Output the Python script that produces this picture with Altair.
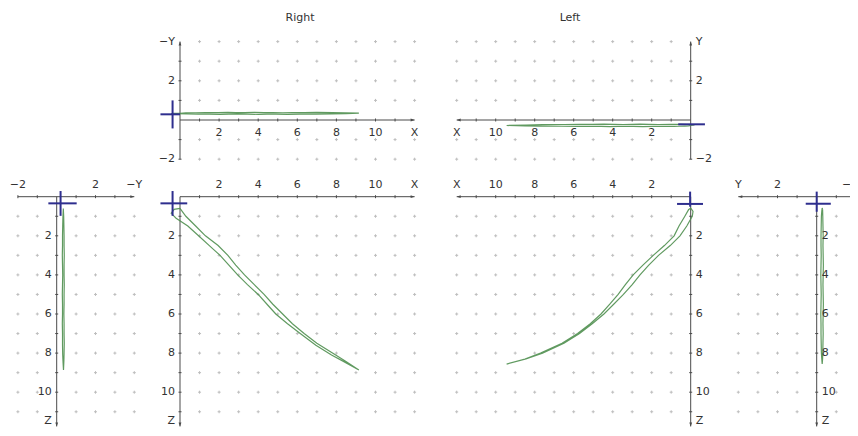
import altair as alt
import pandas as pd

# ---------------- data ----------------
# Right side trajectory: outward path then return path
right_x = [0.0, 0.3, 0.8, 1.3, 1.95, 2.45, 2.85, 3.3, 3.8, 4.3, 4.75, 5.25, 5.75, 6.35, 7.0, 7.8, 8.45, 9.15,
           8.5, 7.75, 6.95, 6.15, 5.5, 4.9, 4.45, 4.0, 3.45, 2.95, 2.5, 2.05, 1.5, 0.95, 0.4, -0.2, -0.45, -0.3, 0.0]
right_z = [0.6, 1.0, 1.5, 2.0, 2.5, 3.0, 3.5, 4.0, 4.5, 5.0, 5.5, 6.0, 6.5, 7.0, 7.5, 8.0, 8.4, 8.86,
           8.5, 8.1, 7.6, 7.0, 6.5, 6.0, 5.5, 5.0, 4.5, 4.0, 3.5, 3.0, 2.5, 2.0, 1.5, 1.1, 0.85, 0.65, 0.6]
right_negy = [0.34, 0.36, 0.37, 0.38, 0.38, 0.39, 0.38, 0.38, 0.39, 0.38, 0.38, 0.37, 0.38, 0.38, 0.39, 0.38, 0.37, 0.35,
              0.33, 0.31, 0.30, 0.30, 0.29, 0.30, 0.30, 0.29, 0.30, 0.31, 0.30, 0.29, 0.30, 0.30, 0.31, 0.32, 0.33, 0.34, 0.34]

# Left side trajectory: outward path then return path
left_x = [0.1, 0.3, 0.6, 0.85, 1.35, 1.92, 2.45, 2.95, 3.35, 3.72, 4.15, 4.6, 5.15, 5.8, 6.6, 7.7, 8.5, 9.44,
          8.45, 7.6, 6.5, 5.7, 5.05, 4.45, 3.95, 3.45, 3.0, 2.6, 2.15, 1.65, 1.05, 0.55, 0.2, -0.08, -0.12, 0.0, 0.1]
left_z = [0.65, 1.0, 1.5, 2.0, 2.5, 3.0, 3.5, 4.0, 4.5, 5.0, 5.5, 6.0, 6.5, 7.0, 7.5, 8.0, 8.3, 8.56,
          8.3, 8.0, 7.5, 7.0, 6.5, 6.0, 5.5, 5.0, 4.5, 4.0, 3.5, 3.0, 2.5, 2.0, 1.5, 1.0, 0.75, 0.58, 0.65]
left_y = [-0.30, -0.31, -0.32, -0.33, -0.32, -0.33, -0.34, -0.33, -0.32, -0.33, -0.34, -0.33, -0.32, -0.33, -0.32, -0.31, -0.30, -0.28,
          -0.26, -0.24, -0.23, -0.22, -0.22, -0.21, -0.22, -0.23, -0.22, -0.21, -0.22, -0.23, -0.22, -0.22, -0.23, -0.24, -0.26, -0.28, -0.30]

# blue marker cross arms per view: (u0, v0, u1, v1)
cross_A = [(-0.38, -0.43, -0.38, 1.0), (-1.0, 0.29, 0.0, 0.29)]
cross_B = [(0.64, -0.22, -0.73, -0.22)]
cross_C = [(0.2, -0.29, 0.2, 0.98), (-0.43, 0.34, 1.03, 0.34)]
cross_D = [(-0.38, -0.29, -0.38, 0.98), (-1.0, 0.34, 0.37, 0.34)]
cross_E = [(0.70, 0.37, -0.63, 0.37), (0.03, -0.26, 0.03, 0.51)]
cross_F = [(0.56, 0.36, -0.72, 0.36), (0.0, -0.26, 0.0, 0.77)]

# tick label lists
long_x_vals = [2, 4, 6, 8, 10, 12]
long_x_texts = ["2", "4", "6", "8", "10", "X"]
long_z_vals = [2, 4, 6, 8, 10, 11.45]
long_z_texts = ["2", "4", "6", "8", "10", "Z"]
short_vals = [2, -2, 4]
short_texts_negy = ["2", "\u22122", "\u2212Y"]
short_texts_y = ["2", "\u22122", "Y"]

# ---------------- styling ----------------
FONT = "DejaVu Sans"
AXC = "#4a4a4a"
TXT = "#333333"
GRID = "#bdbdbd"
GREEN = "#4f8f4f"
BLUE = "#2e2e8e"

DOT = "M-1,0L1,0M0,-1L0,1"
VT = "M0,-1L0,1"
HT = "M-1,0L1,0"
ARROW = {
    "right": "M0,0L-2,-0.7L-2,0.7Z",
    "left": "M0,0L2,-0.7L2,0.7Z",
    "up": "M0,0L-0.7,2L0.7,2Z",
    "down": "M0,0L-0.7,-2L0.7,-2Z",
}

# pixel ranges (chart coordinates)
RX = [172, 406.6]       # Right X 0..12
LX = [682.7, 448.7]     # Left X 0..12 (reversed)
TOPY = [151.2, 33.6]    # Y -2..4
BOTZ = [188.7, 423.3]   # Z 0..12 (downwards)
CX = [9.9, 126.3]       # -Y -2..4
FX = [847.9, 730.3]     # Y -2..4 (reversed)
ZEND = 11.75            # vertical axes end (arrow) inside the canvas


def make_panel(xd, xr, yd, yr, cu, cv, h_axis, v_axis, h_ticks, v_ticks,
               grid_u, grid_v, arrows, hl_vals, hl_texts, hl_dy,
               vl_vals, vl_texts, vl_side, cross):
    sx = alt.Scale(domain=xd, range=xr, zero=False, nice=False)
    sy = alt.Scale(domain=yd, range=yr, zero=False, nice=False)

    def enc(u="u", v="v"):
        return dict(x=alt.X(f"{u}:Q", scale=sx, axis=None),
                    y=alt.Y(f"{v}:Q", scale=sy, axis=None))

    layers = []
    grid = pd.DataFrame([(u, v) for u in grid_u for v in grid_v], columns=["u", "v"])
    layers.append(alt.Chart(grid).mark_point(shape=DOT, size=9, color=GRID, filled=False,
                                             strokeWidth=1, opacity=1).encode(**enc()))

    rules = pd.DataFrame([h_axis, v_axis], columns=["u", "v", "u2", "v2"])
    layers.append(alt.Chart(rules).mark_rule(color=AXC, strokeWidth=1).encode(
        **enc(), x2="u2:Q", y2="v2:Q"))

    ticks = pd.DataFrame([(t, 0, VT) for t in h_ticks] + [(0, t, HT) for t in v_ticks],
                         columns=["u", "v", "s"])
    layers.append(alt.Chart(ticks).mark_point(size=9, color=AXC, filled=False, strokeWidth=1,
                                              opacity=1).encode(
        **enc(), shape=alt.Shape("s:N", scale=None)))

    arr = pd.DataFrame([(a[0], a[1], ARROW[a[2]]) for a in arrows], columns=["u", "v", "s"])
    layers.append(alt.Chart(arr).mark_point(size=16, color=AXC, filled=True, opacity=1).encode(
        **enc(), shape=alt.Shape("s:N", scale=None)))

    curve = pd.DataFrame({"u": cu, "v": cv, "i": list(range(len(cu)))})
    layers.append(alt.Chart(curve).mark_line(color=GREEN, strokeWidth=1.2, opacity=0.9).encode(
        **enc(), order="i:Q"))

    cr = pd.DataFrame(cross, columns=["u", "v", "u2", "v2"])
    layers.append(alt.Chart(cr).mark_rule(color=BLUE, strokeWidth=2).encode(
        **enc(), x2="u2:Q", y2="v2:Q"))

    hl = pd.DataFrame({"u": hl_vals, "v": [0] * len(hl_vals), "t": hl_texts})
    layers.append(alt.Chart(hl).mark_text(font=FONT, fontSize=11, color=TXT, align="center",
                                          baseline="middle", dy=hl_dy).encode(**enc(), text="t:N"))

    vl = pd.DataFrame({"u": [0] * len(vl_vals), "v": vl_vals, "t": vl_texts})
    if vl_side == "left":
        tm = alt.Chart(vl).mark_text(font=FONT, fontSize=11, color=TXT, align="right",
                                     baseline="middle", dx=-5)
    else:
        tm = alt.Chart(vl).mark_text(font=FONT, fontSize=11, color=TXT, align="left",
                                     baseline="middle", dx=5)
    layers.append(tm.encode(**enc(), text="t:N"))
    return alt.layer(*layers)


xs12 = list(range(1, 13))
ticks11 = list(range(1, 12))
short_ticks = [-2, -1, 1, 2, 3]
short_grid = [-2, -1, 1, 2, 3, 4]

# A: Right, X vs -Y (top)
pA = make_panel([0, 12], RX, [-2, 4], TOPY, right_x, right_negy,
                (0, 0, 12, 0), (0, -2, 0, 4), ticks11, short_ticks, xs12, short_grid,
                [(12, 0, "right"), (0, 4, "up")], long_x_vals, long_x_texts, 13,
                short_vals, short_texts_negy, "left", cross_A)
# B: Left, X vs Y (top)
pB = make_panel([0, 12], LX, [-2, 4], TOPY, left_x, left_y,
                (0, 0, 12, 0), (0, -2, 0, 4), ticks11, short_ticks, xs12, short_grid,
                [(12, 0, "left"), (0, 4, "up")], long_x_vals, long_x_texts, 13,
                short_vals, short_texts_y, "right", cross_B)
# C: Right, -Y vs Z
pC = make_panel([-2, 4], CX, [0, 12], BOTZ, right_negy, right_z,
                (-2, 0, 4, 0), (0, 0, 0, ZEND), short_ticks, ticks11, short_grid, xs12,
                [(4, 0, "right"), (0, ZEND, "down")], [-2, 2, 4], ["\u22122", "2", "\u2212Y"], -12,
                long_z_vals, long_z_texts, "left", cross_C)
# D: Right, X vs Z
pD = make_panel([0, 12], RX, [0, 12], BOTZ, right_x, right_z,
                (0, 0, 12, 0), (0, 0, 0, ZEND), ticks11, ticks11, xs12, xs12,
                [(12, 0, "right"), (0, ZEND, "down")], long_x_vals, long_x_texts, -12,
                long_z_vals, long_z_texts, "left", cross_D)
# E: Left, X vs Z
pE = make_panel([0, 12], LX, [0, 12], BOTZ, left_x, left_z,
                (0, 0, 12, 0), (0, 0, 0, ZEND), ticks11, ticks11, xs12, xs12,
                [(12, 0, "left"), (0, ZEND, "down")], long_x_vals, long_x_texts, -12,
                long_z_vals, long_z_texts, "right", cross_E)
# F: Left, Y vs Z
pF = make_panel([-2, 4], FX, [0, 12], BOTZ, left_y, left_z,
                (-2, 0, 4, 0), (0, 0, 0, ZEND), short_ticks, ticks11, short_grid, xs12,
                [(4, 0, "left"), (0, ZEND, "down")], [-1.7, 2, 4], ["\u22122", "2", "Y"], -12,
                long_z_vals, long_z_texts, "right", cross_F)

titleR = alt.Chart(pd.DataFrame({"t": ["Right"]})).mark_text(
    font=FONT, fontSize=11, color=TXT, align="center", baseline="middle").encode(
    text="t:N", x=alt.value(292), y=alt.value(10))
titleL = alt.Chart(pd.DataFrame({"t": ["Left"]})).mark_text(
    font=FONT, fontSize=11, color=TXT, align="center", baseline="middle").encode(
    text="t:N", x=alt.value(562), y=alt.value(10))

chart = alt.layer(pA, pB, pC, pD, pE, pF, titleR, titleL).resolve_scale(
    x="independent", y="independent"
).properties(
    width=842, height=420, padding=0, autosize="none", background="white"
).configure_view(stroke=None)

chart.save("out.html", embed_options={"renderer": "svg", "actions": False})
